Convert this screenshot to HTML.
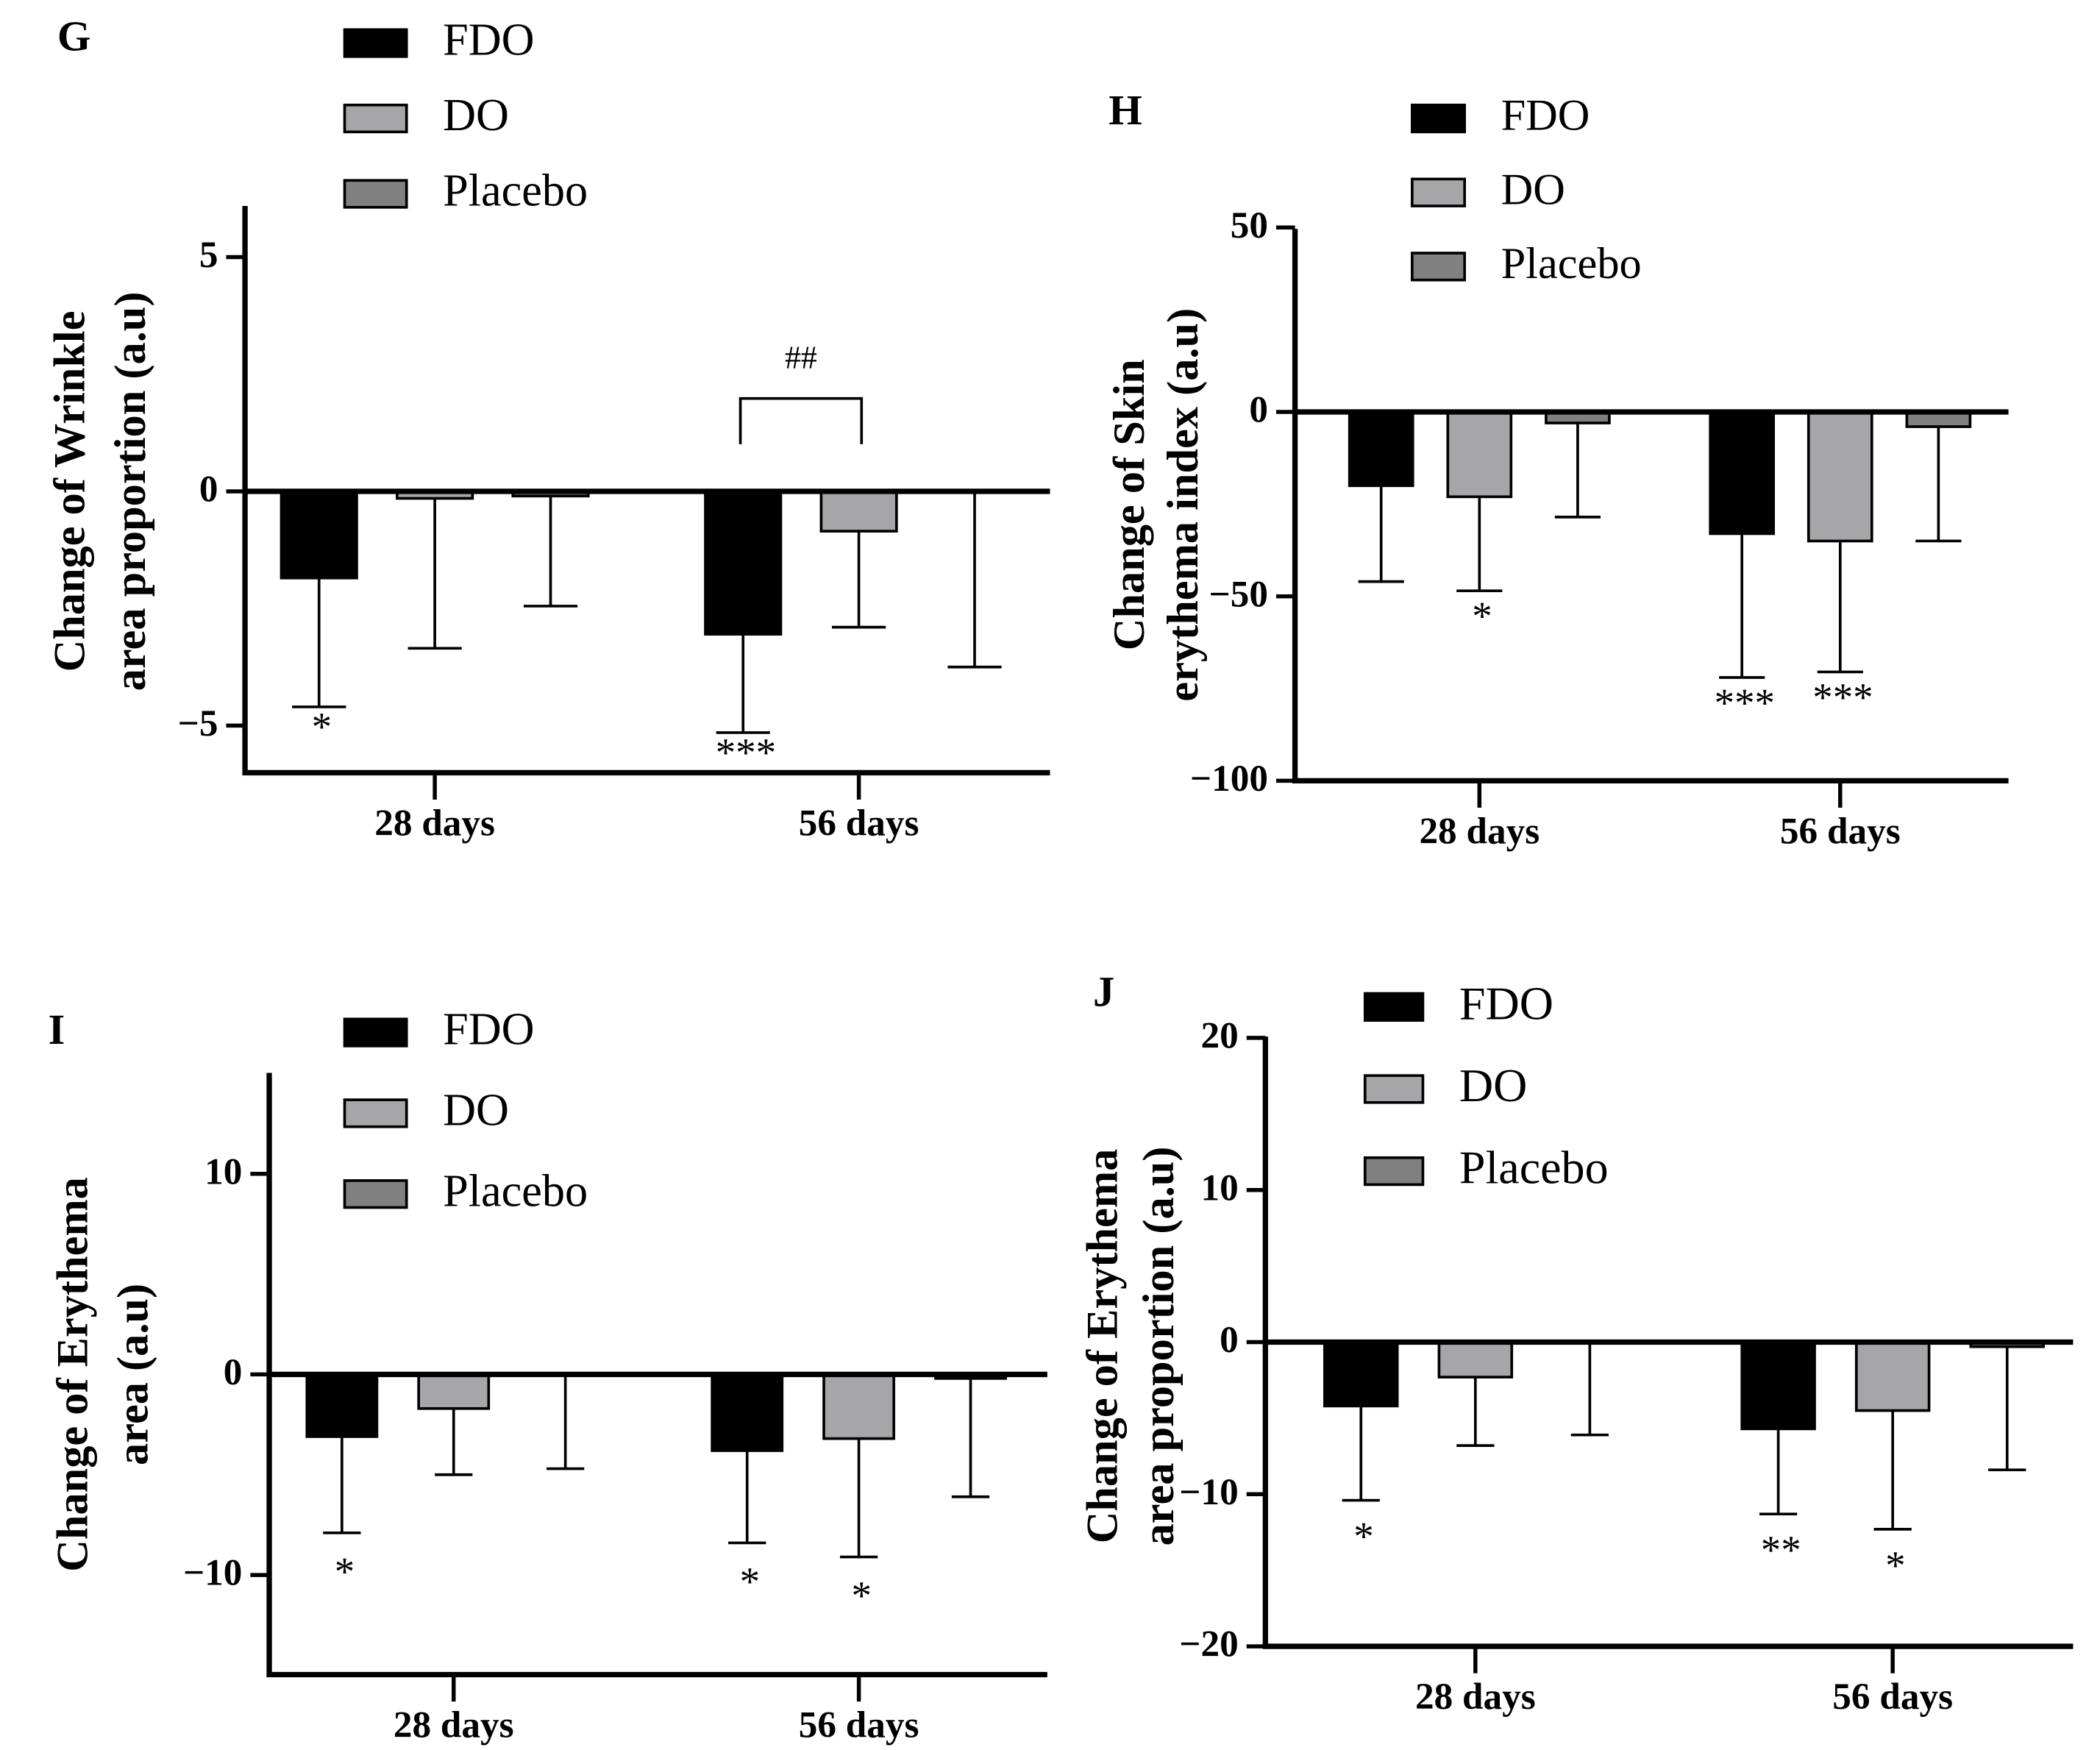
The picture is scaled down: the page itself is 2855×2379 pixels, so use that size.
<!DOCTYPE html>
<html><head><meta charset="utf-8"><style>
html,body{margin:0;padding:0;background:#fff;}
svg{display:block;}
text{font-family:"Liberation Serif",serif;fill:#000;}
</style></head>
<body>
<svg id="fig" width="2855" height="2379" viewBox="0 0 1560 1300" preserveAspectRatio="none" xmlns="http://www.w3.org/2000/svg"></svg>
<script>
const groups = ["28 days", "56 days"];
const series = ["FDO", "DO", "Placebo"];
const gMeans = [[-1.85, -0.15, -0.1], [-3.05, -0.85, -0.02]];
const gErrs  = [[-4.6, -3.35, -2.45], [-5.15, -2.9, -3.75]];
const gTicks = [5, 0, -5];
const hMeans = [[-20, -23, -3], [-33, -35, -4]];
const hErrs  = [[-46, -48.5, -28.5], [-72, -70.5, -35]];
const hTicks = [50, 0, -50, -100];
const iMeans = [[-3.1, -1.7, -0.05], [-3.8, -3.2, -0.2]];
const iErrs  = [[-7.9, -5.0, -4.7], [-8.4, -9.1, -6.1]];
const iTicks = [10, 0, -10];
const jMeans = [[-4.2, -2.3, -0.05], [-5.7, -4.5, -0.3]];
const jErrs  = [[-10.4, -6.8, -6.1], [-11.3, -12.3, -8.4]];
const jTicks = [20, 10, 0, -10, -20];
const gStars = [["*", "", ""], ["***", "", ""]];
const hStars = [["", "*", ""], ["***", "***", ""]];
const iStars = [["*", "", ""], ["*", "*", ""]];
const jStars = [["*", "", ""], ["**", "*", ""]];

const NS = "http://www.w3.org/2000/svg";
const svg = document.getElementById("fig");
const fills = ["#000000", "#a6a6a8", "#808080"];
function mk(tag, attrs, parent, txt) {
  const e = document.createElementNS(NS, tag);
  for (const k in attrs) e.setAttribute(k, attrs[k]);
  if (txt !== undefined) e.textContent = txt;
  (parent || svg).appendChild(e);
  return e;
}

function panel(p) {
  const g = mk("g", {});
  
  
  const y = v => p.y0 + (v - p.v0) * (p.y1 - p.y0) / (p.v1 - p.v0);
  const lbl = mk("text", {x: p.letter[0], y: p.letter[1], "font-size": 32, "font-weight": "bold", "text-anchor": "middle", "dominant-baseline": "middle"}, g, p.id);
  
  
  series.forEach((s, k) => {
    const ly = p.leg[1] + k * p.leg[2];
    const r = mk("rect", {x: p.leg[0], y: ly - 10, width: p.leg[3], height: 20, fill: fills[k], stroke: "#000", "stroke-width": 2}, g);
    
    
    const t = mk("text", {x: p.leg[0] + p.leg[3] + 27, y: ly + 1, "font-size": p.legFs, "dominant-baseline": "middle"}, g, s);
    
    
  });
  const yt = mk("text", {transform: `translate(${p.ylab[0]},${p.ylab[2]}) rotate(-90)`, "font-size": 33, "font-weight": "bold", "text-anchor": "middle", "dominant-baseline": "middle"}, g);
  
  
  mk("tspan", {x: 0, y: 0}, yt, p.ytitle[0]);
  mk("tspan", {x: 0, dy: p.ylab[1] - p.ylab[0]}, yt, p.ytitle[1]);
  groups.forEach((gn, gi) => {
    series.forEach((s, k) => {
      const cx = p.gx[gi] + (k - 1) * p.sp;
      const m = p.means[gi][k], e = p.errs[gi][k];
      const ya = y(0), yb = y(m);
      const b = mk("rect", {x: cx - p.bw / 2, y: Math.min(ya, yb), width: p.bw, height: Math.max(Math.abs(yb - ya), 0.5), fill: fills[k], stroke: "#000", "stroke-width": 2}, g);
      
      
      const ln = mk("path", {d: `M${cx},${yb} V${y(e)} M${cx - p.cap},${y(e)} H${cx + p.cap}`, stroke: "#000", "stroke-width": 2, fill: "none"}, g);
      
      
      const st = p.stars[gi][k];
      if (st) {
        const at = mk("text", {x: cx + 2, y: y(e) + p.starOff, "font-size": 30, "text-anchor": "middle", "dominant-baseline": "middle"}, g, st);
        
        
      }
    });
    const tk = mk("line", {x1: p.gx[gi], x2: p.gx[gi], y1: p.yBot, y2: p.yBot + 20, stroke: "#000", "stroke-width": 3}, g);
    
    
    const xl = mk("text", {x: p.gx[gi], y: p.yBot + 40, "font-size": 28, "font-weight": "bold", "text-anchor": "middle", "dominant-baseline": "middle"}, g, gn);
    
    
  });
  const ax = mk("path", {d: `M${p.ax},${p.yTop} V${p.yBot} H${p.xEnd}`, stroke: "#000", "stroke-width": 4, fill: "none"}, g);
  
  
  const zl = mk("line", {x1: p.ax, x2: p.xEnd, y1: y(0), y2: y(0), stroke: "#000", "stroke-width": 4}, g);
  
  
  p.ticks.forEach(t => {
    const l = mk("line", {x1: p.ax - 14, x2: p.ax, y1: y(t), y2: y(t), stroke: "#000", "stroke-width": 3}, g);
    
    
    const tt = mk("text", {x: p.ax - 20, y: y(t) + 1, "font-size": 28, "font-weight": "bold", "text-anchor": "end", "dominant-baseline": "middle"}, g, t < 0 ? "\u2212" + (-t) : String(t));
    
    
  });
  if (p.bracket) {
    const bk = mk("path", {d: `M550,330 V296 H640 V330`, stroke: "#000", "stroke-width": 2, fill: "none"}, g);
    
    
    const hh = mk("text", {x: 595, y: 268, "font-size": 24, "text-anchor": "middle", "dominant-baseline": "middle"}, g, "##");
    
    
  }
}

panel({id: "G", letter: [55, 30], leg: [256, 32, 56, 46], legFs: 34, ylab: [55, 100, 365],
  ytitle: ["Change of Wrinkle", "area proportion (a.u)"], v0: 0, y0: 365, v1: -5, y1: 539,
  yTop: 153, yBot: 574, ax: 182, xEnd: 780, gx: [323, 638], sp: 86, bw: 56, cap: 20,
  means: gMeans, errs: gErrs, ticks: gTicks, stars: gStars, starOff: 18, bracket: true});
panel({id: "H", letter: [836, 85], leg: [1049, 88, 55, 39], legFs: 33, ylab: [842, 882, 375],
  ytitle: ["Change of Skin", "erythema index (a.u)"], v0: 0, y0: 306, v1: -50, y1: 443,
  yTop: 170, yBot: 580, ax: 962, xEnd: 1492, gx: [1099, 1367], sp: 73, bw: 47, cap: 17,
  means: hMeans, errs: hErrs, ticks: hTicks, stars: hStars, starOff: 22});
panel({id: "I", letter: [42, 768], leg: [256, 767, 60, 46], legFs: 34, ylab: [57, 102, 1021],
  ytitle: ["Change of Erythema", "area (a.u)"], v0: 0, y0: 1021, v1: -10, y1: 1170,
  yTop: 797, yBot: 1244, ax: 200, xEnd: 778, gx: [337, 638], sp: 83, bw: 52, cap: 14,
  means: iMeans, errs: iErrs, ticks: iTicks, stars: iStars, starOff: 32});
panel({id: "J", letter: [820, 740], leg: [1014, 748, 61, 43], legFs: 35, ylab: [822, 864, 1000],
  ytitle: ["Change of Erythema", "area proportion (a.u)"], v0: 0, y0: 997, v1: -10, y1: 1110,
  yTop: 770, yBot: 1223, ax: 940, xEnd: 1540, gx: [1096, 1406], sp: 85, bw: 54, cap: 14,
  means: jMeans, errs: jErrs, ticks: jTicks, stars: jStars, starOff: 30});
</script>
</body></html>
